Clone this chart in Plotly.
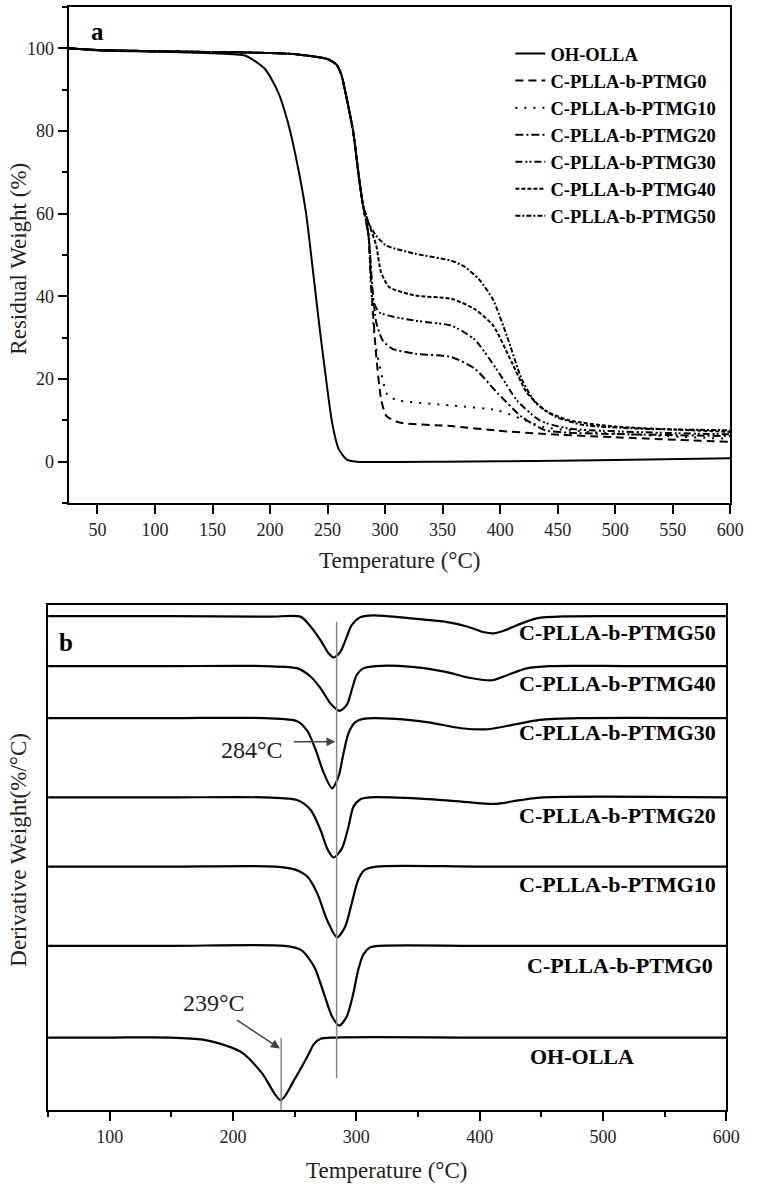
import plotly.graph_objects as go

# ---------------- data: panel a (TGA, residual weight %) ----------------
series_names = ["OH-OLLA", "C-PLLA-b-PTMG0", "C-PLLA-b-PTMG10", "C-PLLA-b-PTMG20",
                "C-PLLA-b-PTMG30", "C-PLLA-b-PTMG40", "C-PLLA-b-PTMG50"]

tga_T_oh = [25, 50, 100, 150, 178.6, 195.6, 207, 215.5, 224, 231.2, 236.8, 242.5, 248.3,
            253.9, 259.6, 266.7, 275.2, 350, 400, 500, 600]
tga_W_oh = [100, 99.5, 99.2, 98.8, 98.2, 95.0, 89.4, 82.1, 71.6, 60.3, 47.4, 33.7, 20.8,
            9.5, 3.1, 0.5, 0, 0, 0.1, 0.4, 0.8]

# common onset region of the block copolymers (curves overlap up to ~282 C)
tga_T_onset = [25, 50, 100, 150, 179, 221, 250, 258, 262, 266.7, 272.4, 276.7, 280.9]
tga_W_onset = [100, 99.6, 99.3, 99.1, 99.0, 98.6, 97.4, 96.0, 93.6, 87.8, 79.7, 70.0, 61.9]

tga_T_0 = [285.5, 289, 292.3, 296.5, 301, 312.2, 357.7, 398, 439, 500, 600]
tga_W_0 = [55, 38, 25.6, 15.2, 11.1, 9.5, 8.6, 7.5, 6.7, 5.9, 4.8]
tga_T_10 = [285.5, 288.5, 290.9, 296.5, 302.3, 312.2, 357.7, 398, 419, 439, 481, 600]
tga_W_10 = [55, 40, 29.7, 21.6, 16.0, 14.8, 13.6, 12.4, 10.3, 8.3, 7.1, 5.5]
tga_T_20 = [285.5, 289, 292.3, 298, 306.5, 326.4, 357.7, 378, 398, 419, 439, 460, 600]
tga_W_20 = [55, 42, 33.7, 29.3, 27.3, 26.1, 25.3, 22.5, 16.5, 10.8, 7.6, 7.0, 6.2]
tga_T_30 = [285.5, 289, 295.1, 326.4, 357.7, 378, 398, 415, 435, 460, 600]
tga_W_30 = [55, 39.5, 36.1, 34.1, 32.9, 29.5, 21.9, 14.7, 9.9, 8.0, 6.6]
tga_T_40 = [286.6, 292.3, 296.5, 303.7, 326.4, 357.7, 378, 394, 410, 423, 439, 460, 500, 600]
tga_W_40 = [57.0, 52.3, 45.8, 42.2, 40.2, 39.4, 36.9, 32.9, 24.1, 16.8, 12.4, 10.0, 8.5, 7.2]
tga_T_50 = [286.6, 292.3, 300.8, 326.4, 357.7, 369, 382, 394, 406, 419, 431, 448, 472, 520, 600]
tga_W_50 = [57.1, 54.7, 52.3, 50.3, 48.6, 47.2, 44, 39.1, 30.3, 19.8, 14.2, 10.9, 8.9, 8.0, 7.6]

# ---------------- data: panel b (DTG, offset-stacked, arbitrary units) ----------------
dtg_T_oh = [50, 100, 149, 175.5, 196.7, 207.3, 223.3, 238.6, 249.8, 260.4, 265.7, 271, 281.6, 400, 600]
dtg_v_oh = [0, 0, 0, -0.4, -1.8, -3.0, -7.0, -12.4, -8.3, -3.7, -1.25, -0.25, 0, 0, 0]
dtg_T_0 = [50, 150, 241.8, 255.1, 265.7, 273.6, 280.3, 286.1, 292.2, 297.5, 301.5, 305.5, 310.8, 318.8, 400, 600]
dtg_v_0 = [0, 0, 0, -0.8, -4.1, -9.4, -14.0, -15.8, -14.0, -9.4, -4.75, -1.8, -0.35, 0, 0, 0]
dtg_T_10 = [50, 150, 233.9, 249.8, 260.4, 268.3, 276.3, 284.3, 290.9, 296.2, 301.5, 306.8, 316, 400, 600]
dtg_v_10 = [0, 0, 0, -0.55, -2.0, -5.3, -10.6, -14.0, -11.9, -7.3, -2.6, -0.65, 0, 0, 0]
dtg_T_20 = [50, 150, 225, 252.4, 263, 271, 276.3, 281.6, 288.3, 293.6, 297.6, 302.9, 310.8, 358.6, 390.4, 411.6, 432.8, 451.4, 600]
dtg_v_20 = [0, 0, 0, -0.55, -2.5, -6.5, -10.1, -11.9, -10.1, -5.8, -1.85, -0.4, 0, -0.35, -0.95, -1.3, -0.55, 0, 0]
dtg_T_30 = [50, 150, 225, 252.4, 260.4, 267, 273.6, 280.3, 285.6, 289.6, 293.6, 298.9, 305.5, 332, 358.6, 385, 406.3, 427.6, 448.8, 480, 600]
dtg_v_30 = [0, 0, 0, -0.65, -2.6, -6.3, -10.9, -13.9, -11.5, -6.9, -3.0, -0.85, -0.15, -0.15, -0.85, -2.0, -2.2, -1.3, -0.35, 0, 0]
dtg_T_40 = [50, 150, 225, 252.4, 263, 271, 279, 286.4, 292.2, 296.2, 300.2, 305.5, 316, 345, 371.6, 390.4, 410.3, 422.2, 438.2, 456.7, 520, 600]
dtg_v_40 = [0, 0, 0, -0.45, -2.1, -4.4, -7.4, -8.85, -7.7, -4.75, -1.8, -0.45, 0, -0.15, -1.1, -2.25, -2.8, -1.8, -0.45, 0, 0, 0]
dtg_T_50 = [50, 150, 230, 255, 263, 271, 277.6, 281.6, 287, 292.2, 296.2, 302.9, 313.5, 345, 371.6, 390.4, 403.7, 411.6, 419.6, 430.2, 446.2, 470, 520, 600]
dtg_v_50 = [0, 0, -0.1, -0.15, -2.1, -4.8, -7.4, -8.2, -7.1, -4.1, -1.8, -0.25, 0.15, -0.45, -1.1, -2.1, -3.2, -3.4, -2.9, -1.8, -0.45, -0.05, 0, 0]

dtg_offsets = [14.35, 32.5, 48.2, 61.9, 77.6, 87.9, 97.8]          # stacking offsets
dtg_label_pos = [(483, 10.5), (514, 28.7), (512, 44.6), (512, 58.4),
                 (512, 74.7), (512, 84.4), (512, 94.5)]                # label anchors (T, y)
peak_T_main = 284
peak_T_oh = 239

x_ticks_a = list(range(50, 601, 50))
y_ticks_a = [0, 20, 40, 60, 80, 100]

# ---------------- styles ----------------
dashes = ["solid", "8px,5px", "2px,7px", "8px,3px,2px,3px",
          "7px,3px,2px,2px,2px,3px", "4px,2px", "5px,2px,2px,2px"]
FONT = "Liberation Serif"
W, H = 757, 1184

def fx(p):
    return p / W

def fy(p):
    return 1 - p / H

fig = go.Figure()

tga_T = [tga_T_oh, tga_T_onset + tga_T_0, tga_T_onset + tga_T_10, tga_T_onset + tga_T_20,
         tga_T_onset + tga_T_30, tga_T_onset + tga_T_40, tga_T_onset + tga_T_50]
tga_W = [tga_W_oh, tga_W_onset + tga_W_0, tga_W_onset + tga_W_10, tga_W_onset + tga_W_20,
         tga_W_onset + tga_W_30, tga_W_onset + tga_W_40, tga_W_onset + tga_W_50]

for name, T, Wt, d in zip(series_names, tga_T, tga_W, dashes):
    fig.add_trace(go.Scatter(x=T, y=Wt, mode="lines", name="<b>" + name + "</b>",
                             line=dict(color="black", width=2, dash=d, shape="spline", smoothing=0.6),
                             xaxis="x", yaxis="y", showlegend=True))

dtg_T = [dtg_T_oh, dtg_T_0, dtg_T_10, dtg_T_20, dtg_T_30, dtg_T_40, dtg_T_50]
dtg_v = [dtg_v_oh, dtg_v_0, dtg_v_10, dtg_v_20, dtg_v_30, dtg_v_40, dtg_v_50]
for name, T, v, off in zip(series_names, dtg_T, dtg_v, dtg_offsets):
    fig.add_trace(go.Scatter(x=T, y=[off + a for a in v], mode="lines", name=name,
                             line=dict(color="black", width=2.2, shape="spline", smoothing=0.75),
                             xaxis="x2", yaxis="y2", showlegend=False))

axis_common = dict(showline=True, linecolor="black", linewidth=2, mirror=True,
                   ticks="outside", ticklen=9, tickwidth=2, tickcolor="black",
                   showgrid=False, zeroline=False,
                   tickfont=dict(family=FONT, size=18, color="#222"))

annotations = []
for (tx, ty), name in zip(dtg_label_pos, series_names):
    annotations.append(dict(x=tx, y=ty, xref="x2", yref="y2", text="<b>" + name + "</b>",
                            showarrow=False, font=dict(family=FONT, size=22, color="black"),
                            xanchor="center", yanchor="middle"))

# arrows + peak labels
annotations += [
    dict(x=peak_T_main - 1, y=72.9, ax=248, ay=72.9, xref="x2", yref="y2", axref="x2", ayref="y2",
         text="", showarrow=True, arrowhead=2, arrowsize=1.2, arrowwidth=1.5, arrowcolor="#444"),
    dict(x=215.6, y=71.3, xref="x2", yref="y2", text=f"{peak_T_main}°C", showarrow=False,
         font=dict(family=FONT, size=24, color="#222")),
    dict(x=peak_T_oh - 1, y=12.2, ax=202, ay=18.0, xref="x2", yref="y2", axref="x2", ayref="y2",
         text="", showarrow=True, arrowhead=2, arrowsize=1.2, arrowwidth=1.5, arrowcolor="#444"),
    dict(x=184.7, y=21.1, xref="x2", yref="y2", text=f"{peak_T_oh}°C", showarrow=False,
         font=dict(family=FONT, size=24, color="#222")),
]

# axis titles and panel letters
annotations += [
    dict(x=fx(407), y=fy(560), xref="paper", yref="paper", text="Temperature (°C)", showarrow=False,
         font=dict(family=FONT, size=23, color="#222"), xanchor="center", yanchor="middle"),
    dict(x=fx(394), y=fy(1170), xref="paper", yref="paper", text="Temperature (°C)", showarrow=False,
         font=dict(family=FONT, size=23, color="#222"), xanchor="center", yanchor="middle"),
    dict(x=fx(18), y=fy(259), xref="paper", yref="paper", text="Residual Weight (%)", showarrow=False,
         textangle=-90, font=dict(family=FONT, size=23, color="#222"), xanchor="center", yanchor="middle"),
    dict(x=fx(18), y=fy(850), xref="paper", yref="paper", text="Derivative Weight(%/°C)", showarrow=False,
         textangle=-90, font=dict(family=FONT, size=23, color="#222"), xanchor="center", yanchor="middle"),
    dict(x=fx(99), y=fy(31), xref="paper", yref="paper", text="<b>a</b>", showarrow=False,
         font=dict(family=FONT, size=25, color="black"), xanchor="center", yanchor="middle"),
    dict(x=fx(67), y=fy(642), xref="paper", yref="paper", text="<b>b</b>", showarrow=False,
         font=dict(family=FONT, size=25, color="black"), xanchor="center", yanchor="middle"),
]

shapes = [
    dict(type="line", xref="x2", yref="y2", x0=peak_T_main, x1=peak_T_main, y0=6.3, y1=96.7,
         line=dict(color="#8a8a8a", width=1.5)),
    dict(type="line", xref="x2", yref="y2", x0=peak_T_oh, x1=peak_T_oh, y0=0, y1=14.3,
         line=dict(color="#8a8a8a", width=1.5)),
]

fig.update_layout(
    width=W, height=H,
    margin=dict(l=0, r=0, t=0, b=0),
    paper_bgcolor="white", plot_bgcolor="white",
    font=dict(family=FONT, color="black"),
    xaxis=dict(domain=[fx(70), fx(744)], range=[25, 600], tickvals=x_ticks_a, anchor="y", **axis_common),
    yaxis=dict(domain=[fy(503), fy(7)], range=[-10, 110], tickvals=y_ticks_a, anchor="x",
               minor=dict(ticks="outside", ticklen=5, tickwidth=1.5, tickcolor="black", dtick=10, tick0=0),
               **axis_common),
    xaxis2=dict(domain=[fx(49), fx(740)], range=[50, 600], dtick=100, tick0=0, anchor="y2",
                minor=dict(ticks="outside", ticklen=5, tickwidth=1.5, tickcolor="black", dtick=50, tick0=0),
                **axis_common),
    yaxis2=dict(domain=[fy(1110), fy(605)], range=[0, 100], anchor="x2", showline=True, linecolor="black",
                linewidth=2, mirror=True, ticks="", showticklabels=False, showgrid=False, zeroline=False),
    legend=dict(x=fx(520), y=fy(35), xanchor="left", yanchor="top", bgcolor="rgba(0,0,0,0)",
                borderwidth=0, font=dict(family=FONT, size=18.5, color="black"), tracegroupgap=0),
    annotations=annotations,
    shapes=shapes,
)

fig.write_html("out.html")
